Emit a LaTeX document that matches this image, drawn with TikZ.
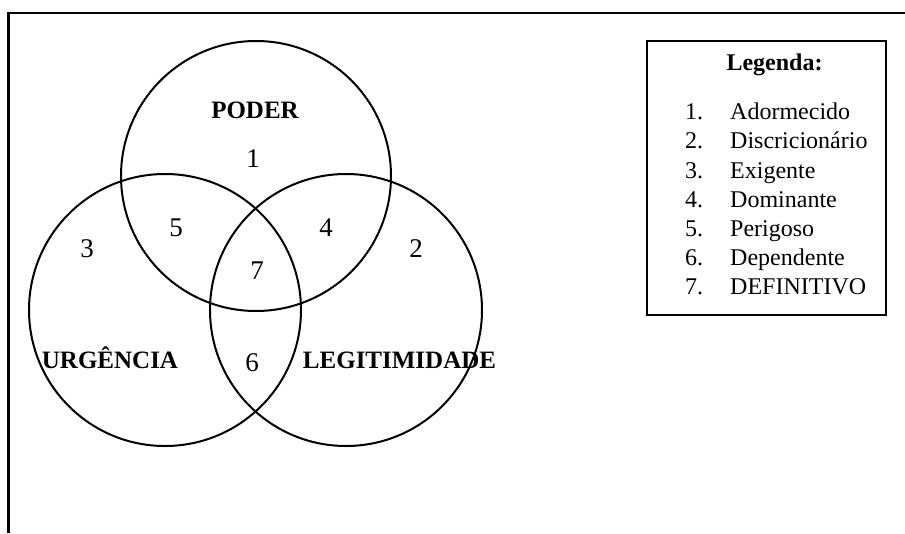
\documentclass[tikz,border=0pt]{standalone}
\usepackage{fontspec}
\setmainfont{Liberation Serif}
\begin{document}
\begin{tikzpicture}[x=1pt,y=-1pt,
  ring/.style={circle, draw, line width=2pt, minimum size=270pt, inner sep=0pt},
  tag/.style={font=\fontsize{25}{29}\selectfont\bfseries, anchor=base, inner sep=0pt},
  num/.style={font=\fontsize{27}{31}\selectfont, anchor=base, inner sep=0pt},
  item/.style={font=\fontsize{24}{28}\selectfont, anchor=base west, inner sep=0pt}]
\useasboundingbox (0,0) rectangle (905,533);

% page frame (top and left rules)
\draw[line width=2pt] (6.6,12.7) -- (905,12.7);
\draw[line width=3.3pt] (8.3,11.7) -- (8.3,533);

% the three sets
\node[ring] (poder) at (256,176) {};
\node[ring, minimum size=272pt] (urg) at (165,310) {};
\node[ring, minimum size=272pt] (leg) at (346,310) {};

% set names
\node[tag] (tpoder) at (255,118.5) {PODER};
\node[tag] (turg) at (110,368.5) {URGÊNCIA};
\node[tag] (tleg) at (399.5,368.5) {LEGITIMIDADE};

% region numbers
\node[num] (r1) at (253,167) {1};
\node[num] (r5) at (176,236) {5};
\node[num] (r4) at (326,236) {4};
\node[num] (r3) at (87,257) {3};
\node[num] (r2) at (416,257) {2};
\node[num] (r7) at (257,279) {7};
\node[num] (r6) at (252,371) {6};

% legend
\draw[line width=1.8pt] (647,41) rectangle (886,315);
\node[tag, font=\fontsize{24}{28}\selectfont\bfseries] (ltitle) at (774.5,70) {Legenda:};
\foreach \k/\txt in {1/Adormecido, 2/Discricionário, 3/Exigente, 4/Dominante,
                     5/Perigoso, 6/Dependente, 7/DEFINITIVO}{
  \node[item] (ln\k) at (685,{119.7+29.2*(\k-1)}) {\k.};
  \node[item] (lt\k) at (730,{119.7+29.2*(\k-1)}) {\txt};
}
\end{tikzpicture}
\end{document}
